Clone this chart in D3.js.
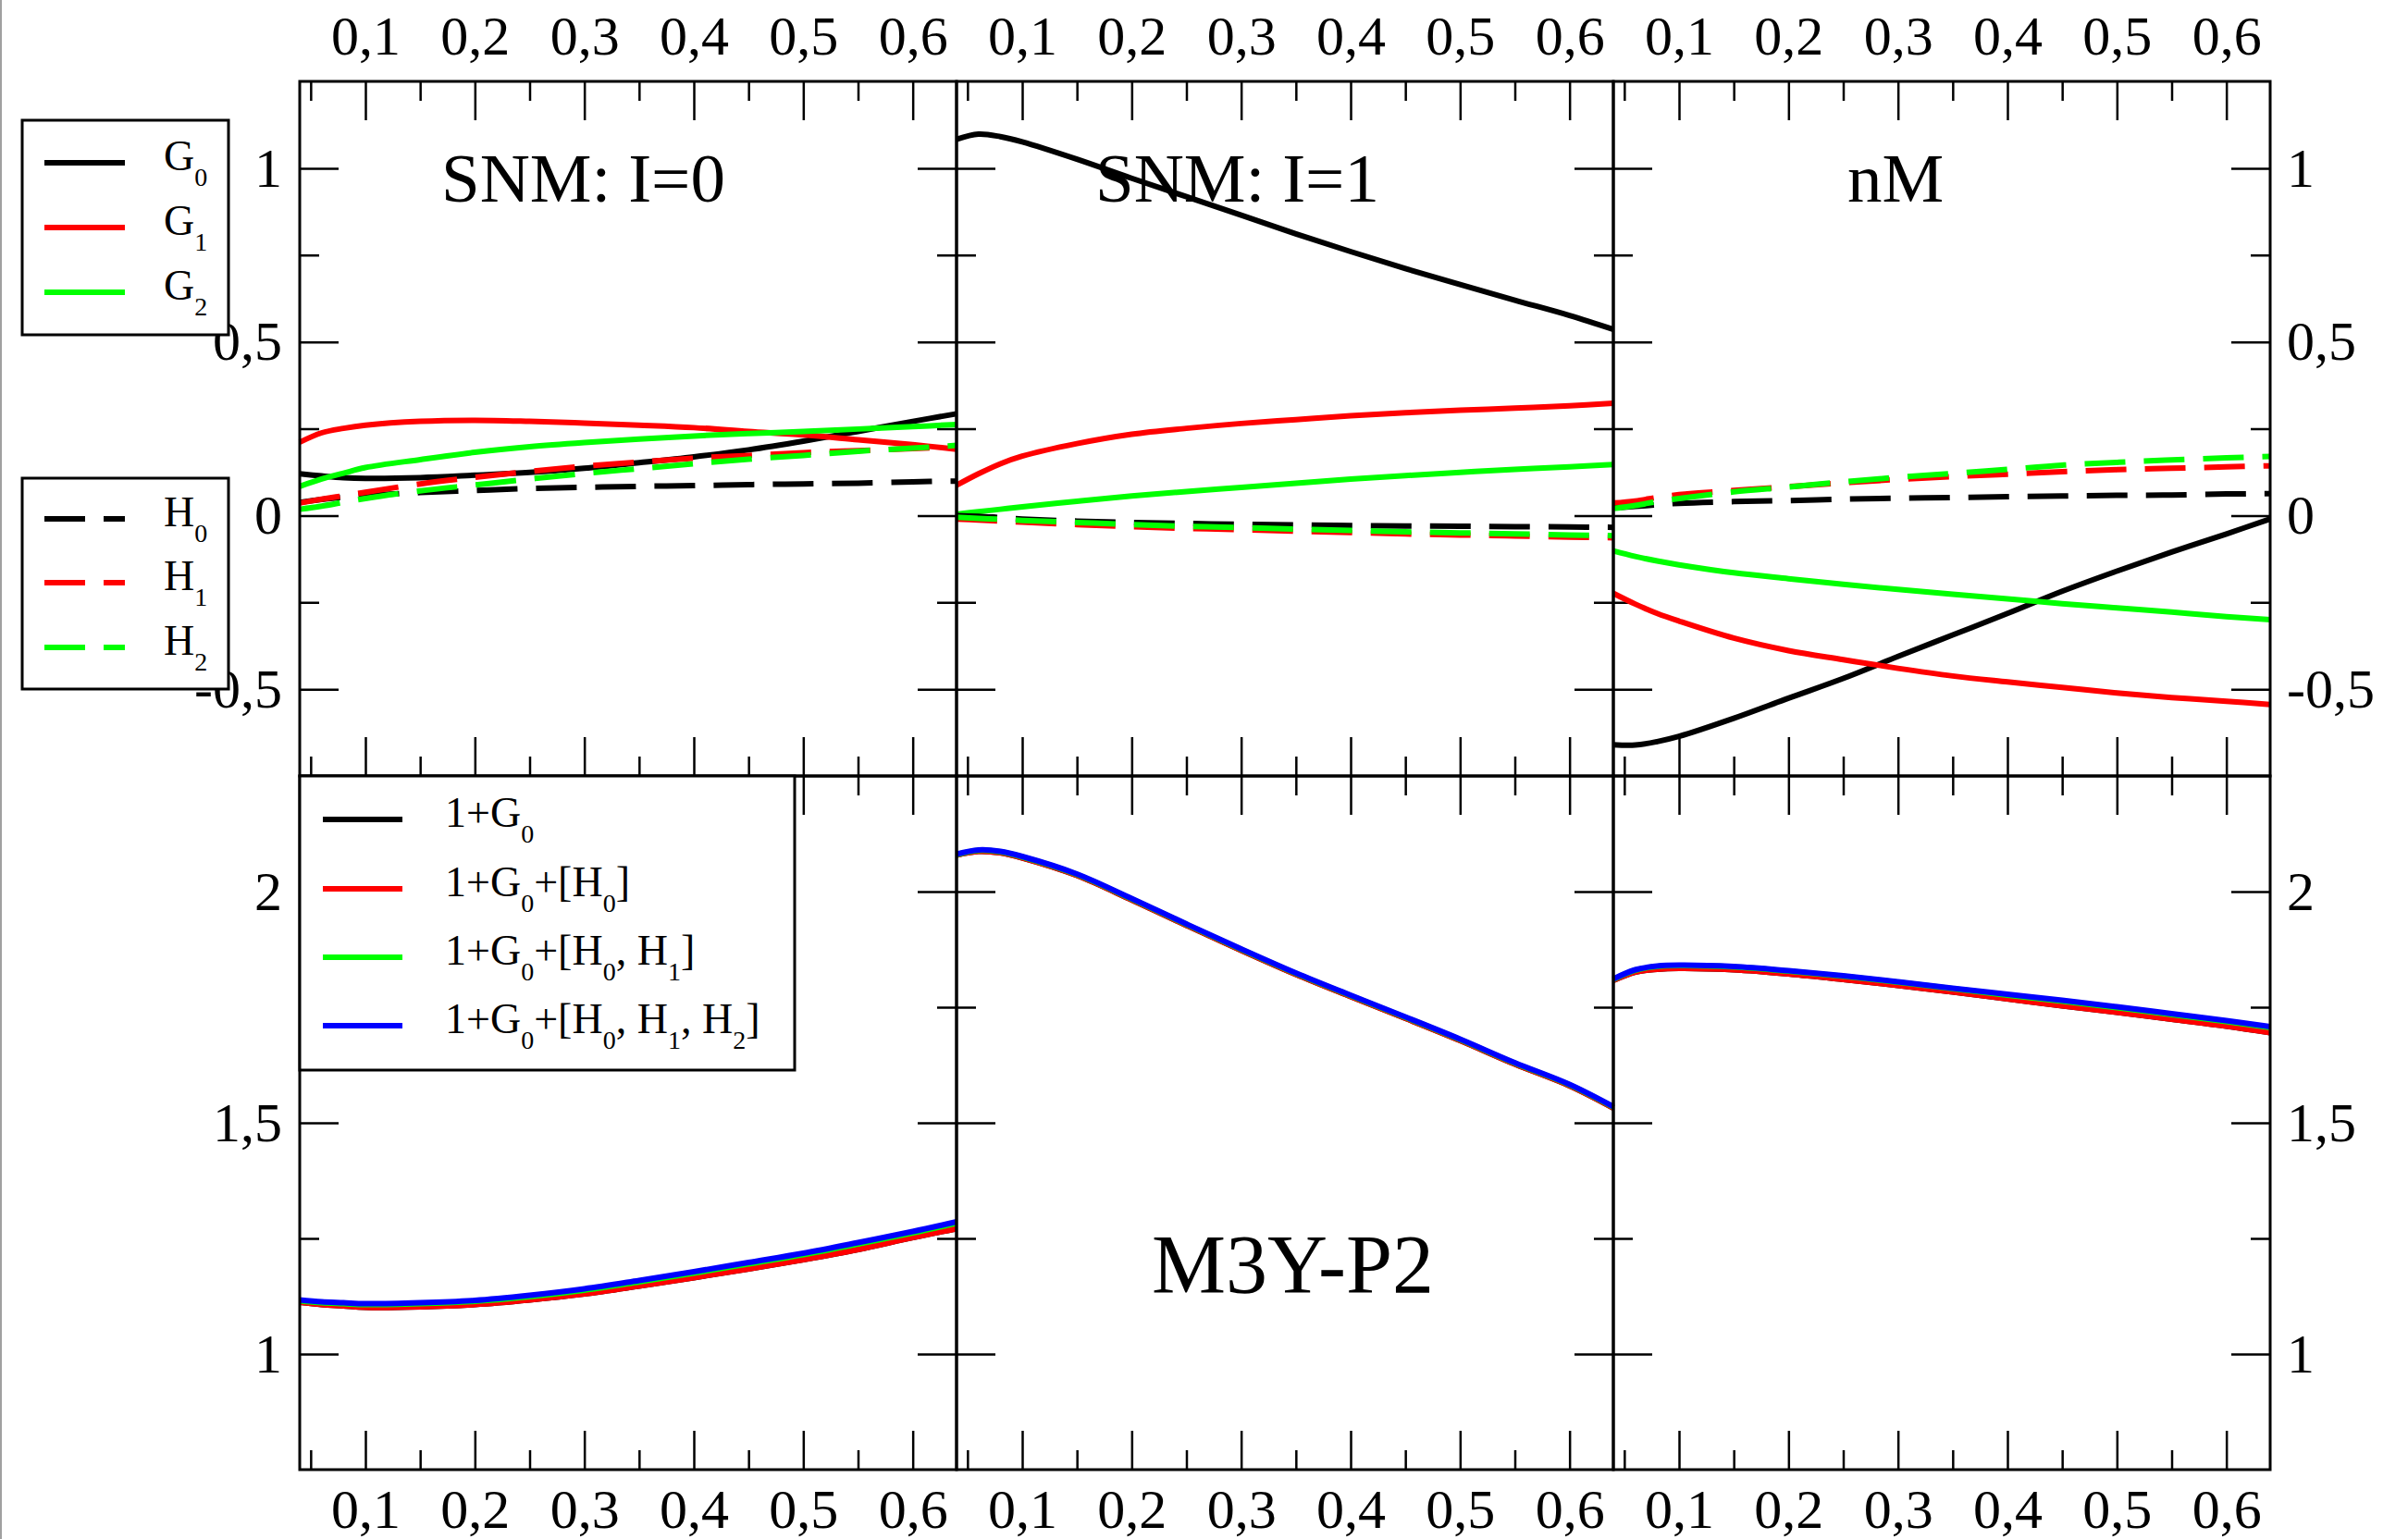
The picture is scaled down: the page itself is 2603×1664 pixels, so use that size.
<!DOCTYPE html>
<html>
<head>
<meta charset="utf-8">
<script src="https://cdn.jsdelivr.net/npm/d3@7"></script>
<style>
  body { margin: 0; background: #fff; }
  svg { display: block; font-family: "Liberation Serif", "DejaVu Serif", serif; }
</style>
</head>
<body>
<script>
var rho = [0.04, 0.06, 0.08, 0.1, 0.15, 0.2, 0.25, 0.3, 0.35, 0.4, 0.45, 0.5, 0.55, 0.6, 0.64];

// upper row: SNM I=0
var i0G0 = [0.120, 0.114, 0.109, 0.107, 0.109, 0.116, 0.124, 0.136, 0.152, 0.169, 0.189, 0.214, 0.242, 0.271, 0.293];
var i0G1 = [0.211, 0.238, 0.251, 0.260, 0.271, 0.274, 0.271, 0.266, 0.260, 0.253, 0.242, 0.232, 0.218, 0.204, 0.191];
var i0G2 = [0.084, 0.105, 0.122, 0.138, 0.161, 0.182, 0.198, 0.210, 0.220, 0.229, 0.236, 0.242, 0.249, 0.256, 0.262];
var i0H0 = [0.038, 0.046, 0.053, 0.058, 0.066, 0.072, 0.078, 0.081, 0.084, 0.086, 0.089, 0.091, 0.093, 0.097, 0.099];
var i0H1 = [0.036, 0.047, 0.057, 0.067, 0.091, 0.110, 0.127, 0.142, 0.154, 0.165, 0.173, 0.181, 0.187, 0.193, 0.198];
var i0H2 = [0.018, 0.027, 0.038, 0.049, 0.071, 0.088, 0.105, 0.121, 0.135, 0.149, 0.162, 0.173, 0.185, 0.194, 0.202];
// upper row: SNM I=1
var i1G0 = [1.083, 1.098, 1.091, 1.076, 1.026, 0.971, 0.918, 0.865, 0.811, 0.760, 0.711, 0.665, 0.620, 0.576, 0.536];
var i1G1 = [0.087, 0.120, 0.149, 0.171, 0.207, 0.234, 0.251, 0.265, 0.276, 0.287, 0.296, 0.303, 0.309, 0.316, 0.323];
var i1G2 = [0.004, 0.011, 0.018, 0.025, 0.041, 0.056, 0.069, 0.081, 0.093, 0.105, 0.115, 0.124, 0.133, 0.140, 0.147];
var i1H0 = [0.000, -0.002, -0.006, -0.010, -0.016, -0.020, -0.023, -0.025, -0.027, -0.029, -0.030, -0.031, -0.032, -0.033, -0.034];
var i1H1 = [-0.010, -0.013, -0.016, -0.019, -0.026, -0.032, -0.037, -0.041, -0.045, -0.049, -0.053, -0.056, -0.059, -0.062, -0.064];
var i1H2 = [-0.005, -0.008, -0.011, -0.014, -0.020, -0.026, -0.031, -0.035, -0.039, -0.043, -0.047, -0.050, -0.053, -0.056, -0.058];
// upper row: nM
var nmG0 = [-0.660, -0.661, -0.651, -0.636, -0.584, -0.526, -0.469, -0.406, -0.344, -0.282, -0.218, -0.160, -0.105, -0.053, -0.010];
var nmG1 = [-0.224, -0.255, -0.282, -0.304, -0.353, -0.389, -0.415, -0.440, -0.462, -0.479, -0.495, -0.511, -0.524, -0.535, -0.544];
var nmG2 = [-0.102, -0.118, -0.131, -0.142, -0.165, -0.182, -0.198, -0.213, -0.227, -0.240, -0.254, -0.266, -0.278, -0.291, -0.300];
var nmH0 = [0.022, 0.026, 0.031, 0.035, 0.040, 0.043, 0.047, 0.050, 0.052, 0.054, 0.056, 0.058, 0.059, 0.062, 0.063];
var nmH1 = [0.036, 0.042, 0.052, 0.060, 0.072, 0.083, 0.094, 0.104, 0.112, 0.119, 0.126, 0.132, 0.136, 0.140, 0.143];
var nmH2 = [0.020, 0.029, 0.040, 0.049, 0.068, 0.082, 0.097, 0.110, 0.121, 0.133, 0.145, 0.153, 0.160, 0.166, 0.170];

// lower row: 1+G0, 1+G0+[H0], 1+G0+[H0,H1], 1+G0+[H0,H1,H2]
var i0S0 = [1.112, 1.107, 1.104, 1.101, 1.102, 1.107, 1.117, 1.130, 1.147, 1.165, 1.184, 1.204, 1.226, 1.252, 1.271];
var i0S1 = [1.112, 1.107, 1.104, 1.101, 1.102, 1.107, 1.117, 1.130, 1.147, 1.165, 1.184, 1.204, 1.226, 1.252, 1.271];
var i0S2 = [1.115, 1.111, 1.109, 1.107, 1.109, 1.114, 1.124, 1.138, 1.156, 1.175, 1.195, 1.215, 1.238, 1.262, 1.283];
var i0S3 = [1.117, 1.113, 1.111, 1.109, 1.111, 1.116, 1.127, 1.141, 1.159, 1.178, 1.198, 1.218, 1.241, 1.265, 1.286];
var i1S0 = [2.079, 2.087, 2.084, 2.073, 2.035, 1.982, 1.927, 1.873, 1.821, 1.773, 1.726, 1.678, 1.627, 1.580, 1.532];
var i1S1 = [2.079, 2.087, 2.084, 2.073, 2.035, 1.982, 1.927, 1.873, 1.821, 1.773, 1.726, 1.678, 1.627, 1.580, 1.532];
var i1S2 = [2.080, 2.089, 2.086, 2.075, 2.037, 1.984, 1.929, 1.875, 1.823, 1.775, 1.728, 1.680, 1.629, 1.582, 1.534];
var i1S3 = [2.081, 2.090, 2.087, 2.076, 2.038, 1.985, 1.930, 1.876, 1.824, 1.776, 1.729, 1.681, 1.630, 1.583, 1.535];
var nmS0 = [1.808, 1.826, 1.832, 1.834, 1.831, 1.822, 1.810, 1.797, 1.783, 1.768, 1.753, 1.739, 1.724, 1.709, 1.695];
var nmS1 = [1.808, 1.826, 1.832, 1.834, 1.831, 1.822, 1.810, 1.797, 1.783, 1.768, 1.753, 1.739, 1.724, 1.709, 1.695];
var nmS2 = [1.810, 1.830, 1.838, 1.840, 1.837, 1.828, 1.817, 1.804, 1.790, 1.776, 1.763, 1.749, 1.734, 1.719, 1.706];
var nmS3 = [1.811, 1.831, 1.839, 1.841, 1.838, 1.829, 1.818, 1.805, 1.791, 1.778, 1.765, 1.751, 1.736, 1.721, 1.708];

// ticks
var xMajor = [0.1, 0.2, 0.3, 0.4, 0.5, 0.6];
var xMinor = [0.05, 0.15, 0.25, 0.35, 0.45, 0.55];
var yMajorTop = [-0.5, 0, 0.5, 1];
var yMinorTop = [-0.25, 0.25, 0.75];
var yMajorBot = [1, 1.5, 2];
var yMinorBot = [1.25, 1.75];

var titles = ["SNM: I=0", "SNM: I=1", "nM"];

var L = 324, W = 710, T = 88, H1 = 751, H2 = 750;
var fmt = d3.formatLocale({decimal: ",", thousands: " ", grouping: [3], currency: ["", ""], minus: "-"}).format(".1~f");

var svg = d3.select("body").append("svg").attr("width", 2603).attr("height", 1664);
svg.append("rect").attr("width", 2603).attr("height", 1664).attr("fill", "#fff");
svg.append("line").attr("x1", 1).attr("x2", 1).attr("y1", 0).attr("y2", 1664)
    .attr("stroke", "#a0a0a0").attr("stroke-width", 2);

var xs = [0, 1, 2].map(function(c) {
    return d3.scaleLinear().domain([0.04, 0.64]).range([L + c * W, L + (c + 1) * W]);
});
var ys = [
    d3.scaleLinear().domain([-0.75, 1.25]).range([T + H1, T]),
    d3.scaleLinear().domain([0.75, 2.25]).range([T + H1 + H2, T + H1])
];

var upperSets = [[i0G0, i0G1, i0G2, i0H0, i0H1, i0H2],
                 [i1G0, i1G1, i1G2, i1H0, i1H1, i1H2],
                 [nmG0, nmG1, nmG2, nmH0, nmH1, nmH2]];
var lowerSets = [[i0S0, i0S1, i0S2, i0S3],
                 [i1S0, i1S1, i1S2, i1S3],
                 [nmS0, nmS1, nmS2, nmS3]];
var upperColor = ["#000000", "#ff0000", "#00ff00", "#000000", "#ff0000", "#00ff00"];
var upperDash = [null, null, null, "44,20", "44,20", "44,20"];
var lowerColor = ["#000000", "#ff0000", "#00ff00", "#0000ff"];

// inward ticks on all four sides of every panel
function panelTicks(c, r) {
    var x = xs[c], y = ys[r];
    var g = svg.append("g");
    var yMaj = r == 0 ? yMajorTop : yMajorBot;
    var yMin = r == 0 ? yMinorTop : yMinorBot;
    [[xMajor, 42], [xMinor, 21]].forEach(function(p) {
        g.append("g").attr("transform", "translate(0," + y.range()[1] + ")")
            .call(d3.axisTop(x).tickValues(p[0]).tickSize(-p[1]).tickFormat(""));
        g.append("g").attr("transform", "translate(0," + y.range()[0] + ")")
            .call(d3.axisBottom(x).tickValues(p[0]).tickSize(-p[1]).tickFormat(""));
    });
    [[yMaj, 42], [yMin, 21]].forEach(function(p) {
        g.append("g").attr("transform", "translate(" + x.range()[0] + ",0)")
            .call(d3.axisLeft(y).tickValues(p[0]).tickSize(-p[1]).tickFormat(""));
        g.append("g").attr("transform", "translate(" + x.range()[1] + ",0)")
            .call(d3.axisRight(y).tickValues(p[0]).tickSize(-p[1]).tickFormat(""));
    });
    g.selectAll(".domain").remove();
    g.selectAll(".tick line").attr("stroke-width", 2.5);
}

var titleX = [477, 1184, 1997];
titles.forEach(function(t, c) {
    svg.append("text").attr("x", titleX[c]).attr("y", 218)
        .attr("font-size", 75).text(t);
});
svg.append("text").attr("x", 1245).attr("y", 1398).attr("font-size", 90).text("M3Y-P2");

for (var c = 0; c < 3; c++) {
    panelTicks(c, 0);
    panelTicks(c, 1);
}

// curves
function drawSet(c, r, vals, color, dash) {
    var x = xs[c], y = ys[r];
    var line = d3.line()
        .x(function(d, i) { return x(rho[i]); })
        .y(function(d) { return y(d); })
        .curve(d3.curveCatmullRom.alpha(0.5));
    svg.append("path").datum(vals)
        .attr("d", line)
        .attr("fill", "none")
        .attr("stroke", color)
        .attr("stroke-width", 6)
        .attr("stroke-dasharray", dash);
}
upperSets.forEach(function(sets, c) {
    sets.forEach(function(v, k) { drawSet(c, 0, v, upperColor[k], upperDash[k]); });
});
lowerSets.forEach(function(sets, c) {
    sets.forEach(function(v, k) { drawSet(c, 1, v, lowerColor[k], null); });
});

// panel frames
for (var c = 0; c < 3; c++) {
    for (var r = 0; r < 2; r++) {
        svg.append("rect")
            .attr("x", xs[c].range()[0]).attr("y", ys[r].range()[1])
            .attr("width", W).attr("height", ys[r].range()[0] - ys[r].range()[1])
            .attr("fill", "none").attr("stroke", "#000").attr("stroke-width", 3);
    }
}

// tick labels
function labelAxis(g) {
    g.attr("font-size", 60).attr("font-family", "Liberation Serif, serif");
    g.select(".domain").remove();
    g.selectAll(".tick line").remove();
}
for (var c = 0; c < 3; c++) {
    svg.append("g").attr("transform", "translate(0," + T + ")")
        .call(d3.axisTop(xs[c]).tickValues(xMajor).tickSize(0).tickPadding(29).tickFormat(fmt))
        .call(labelAxis);
    svg.append("g").attr("transform", "translate(0," + (T + H1 + H2) + ")")
        .call(d3.axisBottom(xs[c]).tickValues(xMajor).tickSize(0).tickPadding(20).tickFormat(fmt))
        .call(labelAxis);
}
[[yMajorTop, 0], [yMajorBot, 1]].forEach(function(p) {
    svg.append("g").attr("transform", "translate(" + L + ",0)")
        .call(d3.axisLeft(ys[p[1]]).tickValues(p[0]).tickSize(0).tickPadding(19).tickFormat(fmt))
        .call(labelAxis);
    svg.append("g").attr("transform", "translate(" + (L + 3 * W) + ",0)")
        .call(d3.axisRight(ys[p[1]]).tickValues(p[0]).tickSize(0).tickPadding(18).tickFormat(fmt))
        .call(labelAxis);
});

// legends
function legend(box, ly, lx, tx, items) {
    svg.append("rect").attr("x", box[0]).attr("y", box[1])
        .attr("width", box[2]).attr("height", box[3])
        .attr("fill", "#fff").attr("stroke", "#000").attr("stroke-width", 3);
    items.forEach(function(it, i) {
        svg.append("line").attr("x1", lx[0]).attr("x2", lx[1])
            .attr("y1", ly[i]).attr("y2", ly[i])
            .attr("stroke", it.color).attr("stroke-width", 6)
            .attr("stroke-dasharray", it.dash);
        var t = svg.append("text").attr("x", tx).attr("y", ly[i] + 8).attr("font-size", 46);
        it.parts.forEach(function(s, j) {
            var sp = t.append("tspan").text(s);
            if (j % 2 == 1) sp.attr("font-size", 28).attr("dy", 17);
            else if (j > 0) sp.attr("dy", -17);
        });
    });
}
legend([24, 130, 223, 232], [176, 246, 316], [48, 135], 177, [
    {color: "#000000", dash: null, parts: ["G", "0"]},
    {color: "#ff0000", dash: null, parts: ["G", "1"]},
    {color: "#00ff00", dash: null, parts: ["G", "2"]}
]);
legend([24, 517, 223, 228], [561, 630, 700], [48, 135], 177, [
    {color: "#000000", dash: "44,20", parts: ["H", "0"]},
    {color: "#ff0000", dash: "44,20", parts: ["H", "1"]},
    {color: "#00ff00", dash: "44,20", parts: ["H", "2"]}
]);
legend([324, 839, 535, 318], [886, 961, 1035, 1109], [349, 435], 481, [
    {color: "#000000", dash: null, parts: ["1+G", "0"]},
    {color: "#ff0000", dash: null, parts: ["1+G", "0", "+[H", "0", "]"]},
    {color: "#00ff00", dash: null, parts: ["1+G", "0", "+[H", "0", ", H", "1", "]"]},
    {color: "#0000ff", dash: null, parts: ["1+G", "0", "+[H", "0", ", H", "1", ", H", "2", "]"]}
]);
</script>
</body>
</html>
